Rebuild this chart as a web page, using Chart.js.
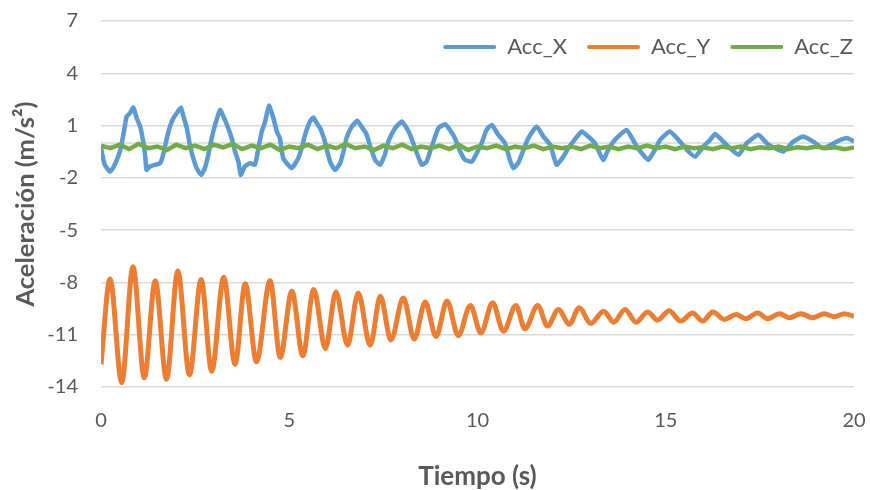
<!DOCTYPE html>
<html>
<head>
<meta charset="utf-8">
<script src="https://cdn.jsdelivr.net/npm/chart.js@4.4.0/dist/chart.umd.min.js"></script>
<style>
html,body{margin:0;padding:0;background:#ffffff;}
#wrap{width:870px;height:490px;position:relative;}
</style>
</head>
<body>
<div id="wrap"><canvas id="c"></canvas></div>
<script>
// ---- data ----
const seriesNames = ['Acc_X', 'Acc_Y', 'Acc_Z'];
const seriesColors = ['#5B9BD5', '#ED7D31', '#70AD47'];
const xTicks = [0, 5, 10, 15, 20];
const yTicks = [-14, -11, -8, -5, -2, 1, 4, 7];
const xTitle = 'Tiempo (s)';
const yTitle = 'Aceleración (m/s²)';

const tX = [0.00,0.10,0.24,0.32,0.42,0.50,0.59,0.68,0.77,0.86,0.95,1.04,1.12,1.17,1.21,1.30,1.43,1.57,1.65,1.75,1.83,1.92,2.01,2.12,2.19,2.28,2.36,2.45,2.54,2.66,2.76,2.85,2.94,3.03,3.16,3.29,3.38,3.47,3.56,3.65,3.71,3.82,3.96,4.09,4.18,4.27,4.36,4.46,4.58,4.67,4.75,4.84,5.06,5.24,5.33,5.42,5.55,5.64,5.73,5.82,5.92,6.01,6.10,6.22,6.35,6.44,6.52,6.66,6.81,6.92,7.04,7.14,7.28,7.41,7.54,7.63,7.81,7.99,8.12,8.23,8.34,8.52,8.65,8.74,8.83,8.96,9.14,9.27,9.40,9.54,9.67,9.85,9.98,10.11,10.24,10.38,10.55,10.73,10.86,10.95,11.08,11.22,11.35,11.57,11.75,11.93,12.10,12.28,12.41,12.54,12.77,12.94,13.12,13.34,13.47,13.65,13.96,14.18,14.36,14.54,14.71,14.85,15.11,15.38,15.56,15.78,16.00,16.18,16.31,16.53,16.71,16.93,17.15,17.46,17.68,17.90,18.12,18.39,18.65,18.92,19.18,19.54,19.81,20.00];
const accX = [-0.28,-1.25,-1.64,-1.43,-0.97,-0.49,0.43,1.52,1.71,2.03,1.42,0.94,0.08,-0.68,-1.54,-1.35,-1.25,-1.16,-0.68,0.28,0.94,1.42,1.71,2.03,1.52,0.85,-0.11,-0.87,-1.44,-1.83,-1.44,-0.68,0.28,1.04,1.90,1.33,0.85,0.28,-0.49,-1.07,-1.83,-1.35,-1.16,-1.25,-0.30,0.66,1.23,2.15,1.42,0.66,0.28,-0.87,-1.44,-0.87,-0.30,0.47,1.23,1.46,1.14,0.85,0.28,-0.49,-1.16,-1.54,-1.16,-0.49,0.28,0.94,1.27,0.94,0.56,-0.11,-0.97,-1.25,-0.68,0.08,0.85,1.23,0.85,0.37,-0.30,-1.25,-1.07,-0.49,0.08,0.85,1.08,0.75,0.28,-0.49,-0.97,-1.07,-0.58,-0.01,0.75,1.04,0.47,-0.01,-0.97,-1.44,-1.16,-0.39,0.28,0.94,0.37,-0.11,-1.25,-0.78,-0.30,0.08,0.66,0.37,-0.01,-0.97,-0.39,0.18,0.75,-0.01,-0.58,-0.97,-0.39,0.18,0.66,0.08,-0.39,-0.78,-0.20,0.18,0.52,0.08,-0.30,-0.68,-0.01,0.47,-0.01,-0.30,-0.49,0.08,0.37,0.08,-0.30,0.08,0.28,0.08];

const tY = [0.00,0.24,0.55,0.85,1.15,1.44,1.74,2.04,2.35,2.66,2.94,3.26,3.56,3.83,4.13,4.49,4.76,5.07,5.36,5.65,5.96,6.24,6.55,6.83,7.15,7.42,7.70,8.03,8.32,8.61,8.90,9.19,9.49,9.81,10.09,10.40,10.69,11.02,11.26,11.60,11.86,12.15,12.44,12.70,13.01,13.35,13.62,13.92,14.21,14.52,14.78,15.09,15.40,15.71,15.98,16.25,16.56,16.87,17.13,17.44,17.71,18.02,18.28,18.59,18.90,19.21,19.48,19.74,20.00];
const accY = [-12.7,-7.8,-13.75,-7.1,-13.47,-7.9,-13.56,-7.35,-13.3,-7.83,-13.1,-7.7,-12.7,-8.07,-12.55,-7.9,-12.3,-8.5,-12.2,-8.4,-11.8,-8.55,-11.6,-8.6,-11.6,-8.8,-11.3,-8.9,-11.25,-9.13,-11.1,-9.07,-11.05,-9.32,-10.9,-9.17,-10.8,-9.32,-10.66,-9.32,-10.5,-9.55,-10.4,-9.45,-10.35,-9.65,-10.28,-9.55,-10.28,-9.7,-10.16,-9.62,-10.22,-9.75,-10.22,-9.7,-10.12,-9.84,-10.08,-9.75,-10.08,-9.79,-10.03,-9.79,-10.03,-9.8,-9.97,-9.79,-9.95];

const tZ = [0,0.25,0.5,0.75,1,1.25,1.5,1.75,2,2.25,2.5,2.75,3,3.25,3.5,3.75,4,4.25,4.5,4.75,5,5.25,5.5,5.75,6,6.25,6.5,6.75,7,7.25,7.5,7.75,8,8.25,8.5,8.75,9,9.25,9.5,9.75,10,10.25,10.5,10.75,11,11.25,11.5,11.75,12,12.25,12.5,12.75,13,13.25,13.5,13.75,14,14.25,14.5,14.75,15,15.25,15.5,15.75,16,16.25,16.5,16.75,17,17.25,17.5,17.75,18,18.25,18.5,18.75,19,19.25,19.5,19.75,20];
const accZ = [-0.15,-0.3,-0.1,-0.35,-0.05,-0.3,-0.2,-0.4,-0.1,-0.3,-0.15,-0.35,-0.1,-0.25,-0.05,-0.35,-0.15,-0.3,-0.1,-0.4,-0.2,-0.3,-0.1,-0.35,-0.15,-0.3,-0.05,-0.3,-0.2,-0.4,-0.15,-0.3,-0.1,-0.35,-0.2,-0.3,-0.15,-0.35,-0.1,-0.4,-0.2,-0.3,-0.15,-0.35,-0.2,-0.3,-0.15,-0.35,-0.2,-0.3,-0.2,-0.35,-0.15,-0.3,-0.2,-0.35,-0.2,-0.3,-0.15,-0.3,-0.2,-0.35,-0.2,-0.3,-0.25,-0.35,-0.2,-0.3,-0.2,-0.35,-0.25,-0.3,-0.2,-0.35,-0.25,-0.3,-0.2,-0.3,-0.25,-0.35,-0.25];

// ---- styling ----
const TEXT = '#595959';
const GRID = '#D9D9D9';
const FONT = 'Lato, "Open Sans", sans-serif';
const LEGEND_FONT = 22;

function pts(ts, vs) { return ts.map((t, i) => ({x: t, y: vs[i]})); }

const zeroLine = {
  id: 'zeroLine',
  beforeDatasetsDraw(chart) {
    const {ctx, chartArea, scales} = chart;
    const y = scales.y.getPixelForValue(0);
    ctx.save();
    ctx.strokeStyle = GRID;
    ctx.lineWidth = 1.5;
    ctx.beginPath();
    ctx.moveTo(chartArea.left, y);
    ctx.lineTo(chartArea.right, y);
    ctx.stroke();
    ctx.restore();
  }
};

// legend floats over the plot area (as in the reference) instead of taking space
const legendPlace = {
  id: 'legendPlace',
  beforeLayout(chart) {
    const lg = chart.legend;
    if (lg && !lg._floating) {
      lg._floating = true;
      const origFit = lg.fit;
      lg.fit = function () { origFit.call(this); this.height = 0; };
    }
  },
  afterLayout(chart) {
    const lg = chart.legend;
    if (!lg) return;
    const pad = lg.options.labels.padding;
    const dx = (chart.chartArea.right - 1 + pad) - lg.right;
    const top = (chart.chartArea.top + 26) - (pad + LEGEND_FONT / 2);
    lg.left += dx; lg.right += dx;
    lg.top = top; lg.bottom = top + 2 * pad + LEGEND_FONT + 6;
    lg.height = lg.bottom - lg.top;
  }
};

function draw() {
  Chart.defaults.font.family = FONT;
  Chart.defaults.color = TEXT;
  new Chart(document.getElementById('c'), {
    type: 'line',
    data: {
      datasets: [
        {label: seriesNames[0], data: pts(tX, accX), borderColor: seriesColors[0], backgroundColor: seriesColors[0],
         borderWidth: 4.5, pointRadius: 0, tension: 0.15, order: 3},
        {label: seriesNames[1], data: pts(tY, accY), borderColor: seriesColors[1], backgroundColor: seriesColors[1],
         borderWidth: 5, pointRadius: 0, cubicInterpolationMode: 'monotone', order: 2},
        {label: seriesNames[2], data: pts(tZ, accZ), borderColor: seriesColors[2], backgroundColor: seriesColors[2],
         borderWidth: 4.5, pointRadius: 0, tension: 0, order: 1}
      ]
    },
    options: {
      responsive: true,
      maintainAspectRatio: false,
      animation: false,
      layout: {padding: {top: 21, right: 16, bottom: 0, left: 0}},
      plugins: {
        tooltip: {enabled: false},
        legend: {
          position: 'top',
          align: 'end',
          reverse: true,
          labels: {
            boxWidth: 53,
            boxHeight: 4,
            padding: 20,
            useBorderRadius: true,
            borderRadius: 2,
            color: TEXT,
            font: {size: LEGEND_FONT, family: FONT},
            generateLabels(chart) {
              const items = Chart.defaults.plugins.legend.labels.generateLabels(chart);
              items.forEach(it => { it.lineWidth = 0; it.fillStyle = seriesColors[it.datasetIndex]; it.strokeStyle = seriesColors[it.datasetIndex]; });
              return items;
            }
          }
        }
      },
      scales: {
        x: {
          type: 'linear',
          min: xTicks[0],
          max: xTicks[xTicks.length - 1],
          afterBuildTicks: s => { s.ticks = xTicks.map(v => ({value: v})); },
          afterFit: s => { s.height = 103; s.paddingLeft = 0; s.paddingRight = 0; },
          grid: {display: false, drawTicks: false},
          border: {display: false},
          ticks: {color: TEXT, font: {size: 20, family: FONT}, padding: 22, maxRotation: 0},
          title: {display: true, text: xTitle, color: TEXT, font: {size: 26, weight: 'bold', family: FONT, lineHeight: 1}, padding: {top: 0, bottom: 0}}
        },
        y: {
          type: 'linear',
          min: yTicks[0],
          max: yTicks[yTicks.length - 1],
          afterBuildTicks: s => { s.ticks = yTicks.map(v => ({value: v})); },
          afterFit: s => { s.width = 101; s.paddingTop = 0; s.paddingBottom = 0; },
          grid: {color: GRID, lineWidth: 1.5, drawTicks: false},
          border: {display: false},
          ticks: {color: TEXT, font: {size: 20, family: FONT}, padding: 23},
          title: {display: true, text: yTitle, color: TEXT, font: {size: 25.5, weight: 'bold', family: FONT, lineHeight: 1}, padding: {top: 13, bottom: 0}}
        }
      }
    },
    plugins: [zeroLine, legendPlace]
  });
}

if (document.fonts && document.fonts.load) {
  Promise.all([document.fonts.load('20px Lato'), document.fonts.load('bold 24px Lato')]).then(draw, draw);
} else {
  draw();
}
</script>
</body>
</html>
